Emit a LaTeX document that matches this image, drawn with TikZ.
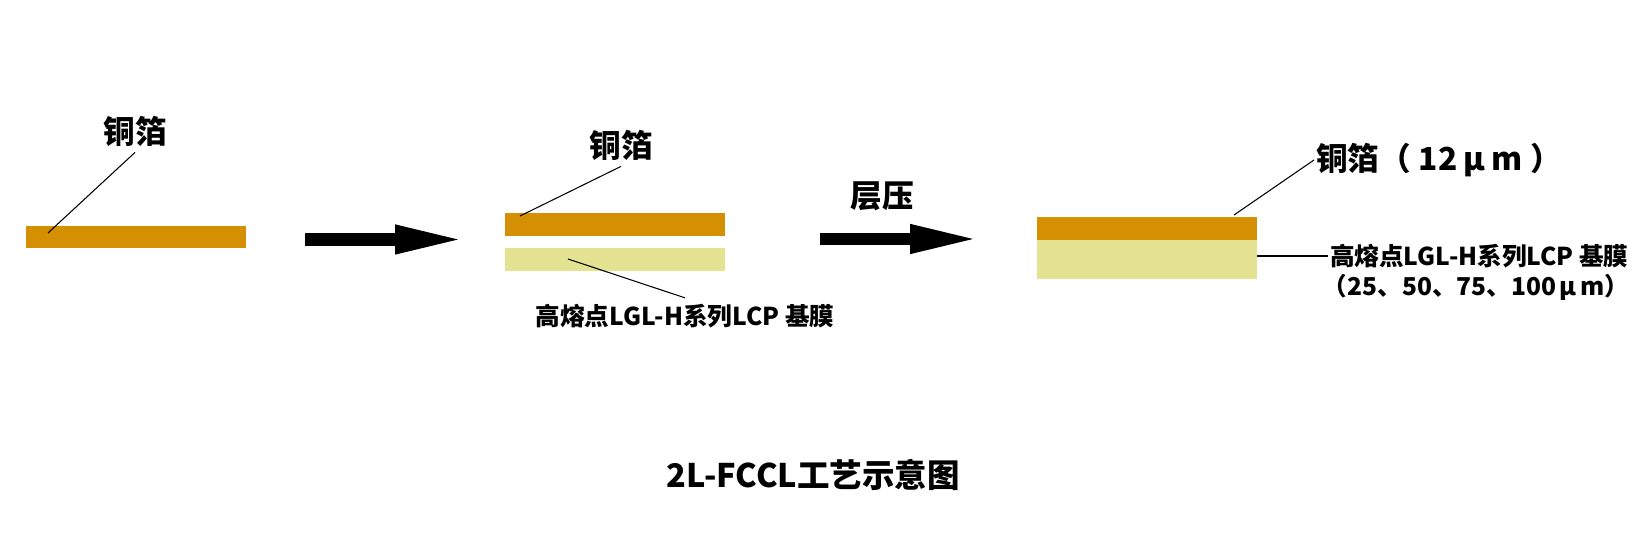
\documentclass[tikz,border=0pt]{standalone}
\usepackage{fontspec}
\setmainfont{Noto Sans CJK SC}
\usetikzlibrary{arrows.meta}
\definecolor{copper}{RGB}{212,144,0}
\definecolor{film}{RGB}{228,227,146}
\begin{document}
\begin{tikzpicture}[x=0.02cm,y=-0.02cm,font=\bfseries,
  layer/.style={inner sep=0pt,minimum width=4.4cm,minimum height=0.45cm},
  leader/.style={line width=0.6pt},
  big/.style={font=\fontsize{18}{21}\bfseries},
  small/.style={font=\fontsize{14}{16}\bfseries},
  press/.style={line width=0.25cm,-{Triangle[length=1.42cm,width=0.52cm]}}]
  \useasboundingbox (0,0) rectangle (1651,560);
  % foil alone
  \node[layer,fill=copper] (cu1) at (136,237) {};
  \node[big] (lab1) at (135,131) {铜箔};
  \coordinate (p1) at (48,233);
  \draw[leader] (lab1.south) -- (p1);
  % stacked before laminating
  \node[layer,fill=copper] (cu2) at (615,224.5) {};
  \node[layer,fill=film] (pi2) at (615,259.5) {};
  \node[big] (lab2) at (621,145) {铜箔};
  \node[small] (lab3) at (685,316) {高熔点LGL-H系列LCP 基膜};
  \coordinate (p2) at (520,216);
  \coordinate (p3) at (568,259);
  \draw[leader] (lab2.south) -- (p2);
  \draw[leader] (lab3.north) -- (p3);
  % laminated
  \node[layer,fill=copper,minimum height=0.46cm] (cu3) at (1147,228.5) {};
  \node[layer,fill=film,minimum height=0.78cm] (pi3) at (1147,259.5) {};
  \node[big,anchor=west,inner sep=1pt] (lab4) at (1314,160)
    {铜箔（\hspace{0.25em}12\hspace{0.2em}μ\hspace{0.2em}m\hspace{0.25em}）};
  \node[small,anchor=west,inner sep=1pt] (lab5) at (1328,256)
    {高熔点LGL-H系列LCP 基膜};
  \node[small] (lab6) at (1476,287)
    {（25、50、75、100\hspace{0.15em}μ\hspace{0.15em}m）};
  \coordinate (p4) at (1234,215);
  \draw[leader] (lab4.west) -- (p4);
  \draw[leader] (lab5.west) -- (lab5.west -| pi3.east);
  % arrows
  \coordinate (a1) at (305,239.5);
  \coordinate (b1) at (466,239.5);
  \coordinate (a2) at (820,239);
  \coordinate (b2) at (981,239);
  \draw[press] (a1) -- (b1);
  \draw[press] (a2) -- (b2);
  \node[big] (lam) at (882,196) {层压};
  % caption
  \node[font=\fontsize{18.5}{22}\bfseries] (title) at (813,475) {2L-FCCL工艺示意图};
\end{tikzpicture}
\end{document}
